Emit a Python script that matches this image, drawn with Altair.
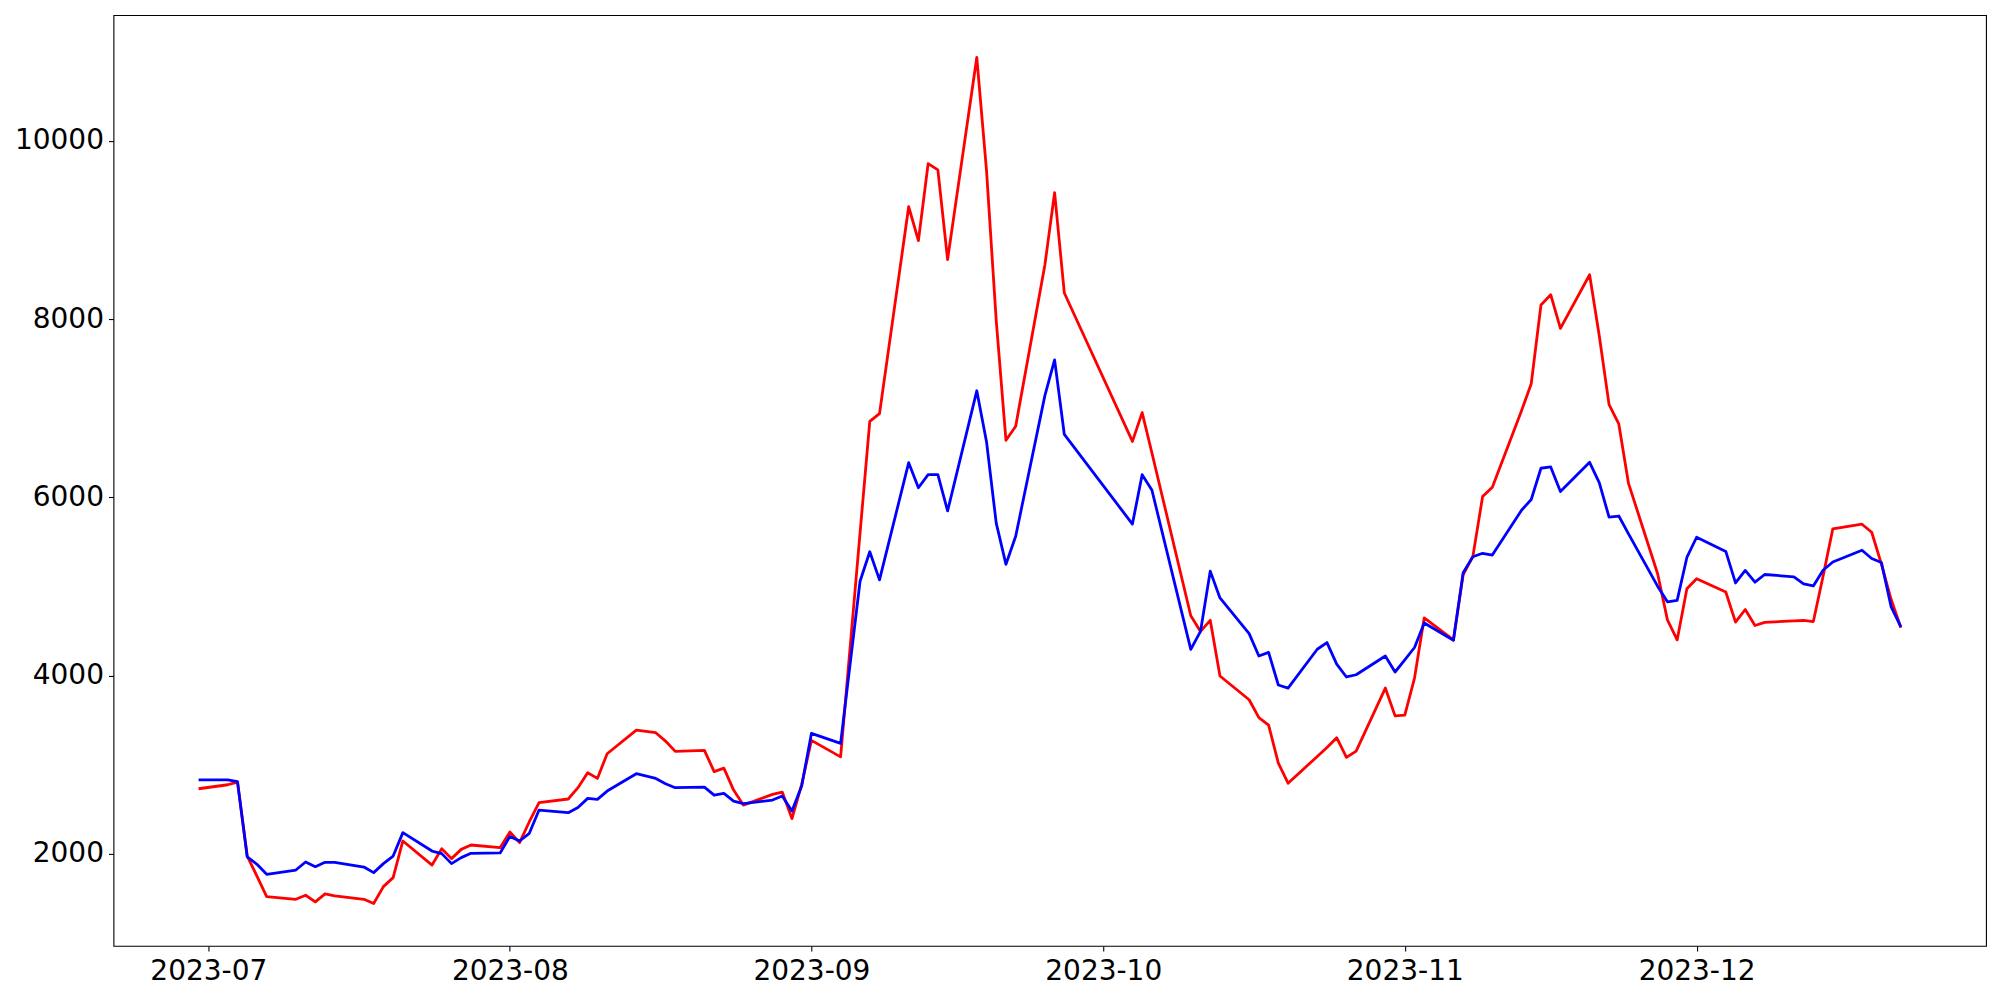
import altair as alt
import pandas as pd

dates = [
    "2023-06-30", "2023-07-03", "2023-07-04", "2023-07-05", "2023-07-06", "2023-07-07",
    "2023-07-10", "2023-07-11", "2023-07-12", "2023-07-13", "2023-07-14",
    "2023-07-17", "2023-07-18", "2023-07-19", "2023-07-20", "2023-07-21",
    "2023-07-24", "2023-07-25", "2023-07-26", "2023-07-27", "2023-07-28",
    "2023-07-31", "2023-08-01", "2023-08-02", "2023-08-03", "2023-08-04",
    "2023-08-07", "2023-08-08", "2023-08-09", "2023-08-10", "2023-08-11",
    "2023-08-14", "2023-08-16", "2023-08-17", "2023-08-18",
    "2023-08-21", "2023-08-22", "2023-08-23", "2023-08-24", "2023-08-25",
    "2023-08-28", "2023-08-29", "2023-08-30", "2023-08-31", "2023-09-01",
    "2023-09-04", "2023-09-06", "2023-09-07", "2023-09-08",
    "2023-09-11", "2023-09-12", "2023-09-13", "2023-09-14", "2023-09-15",
    "2023-09-18", "2023-09-19", "2023-09-20", "2023-09-21", "2023-09-22",
    "2023-09-25", "2023-09-26", "2023-09-27",
    "2023-10-04", "2023-10-05", "2023-10-06",
    "2023-10-10", "2023-10-11", "2023-10-12", "2023-10-13",
    "2023-10-16", "2023-10-17", "2023-10-18", "2023-10-19", "2023-10-20",
    "2023-10-23", "2023-10-24", "2023-10-25", "2023-10-26", "2023-10-27",
    "2023-10-30", "2023-10-31", "2023-11-01", "2023-11-02", "2023-11-03",
    "2023-11-06", "2023-11-07", "2023-11-08", "2023-11-09", "2023-11-10",
    "2023-11-13", "2023-11-14", "2023-11-15", "2023-11-16", "2023-11-17",
    "2023-11-20", "2023-11-21", "2023-11-22", "2023-11-23", "2023-11-24",
    "2023-11-27", "2023-11-28", "2023-11-29", "2023-11-30", "2023-12-01",
    "2023-12-04", "2023-12-05", "2023-12-06", "2023-12-07", "2023-12-08",
    "2023-12-11", "2023-12-12", "2023-12-13", "2023-12-14", "2023-12-15",
    "2023-12-18", "2023-12-19", "2023-12-20", "2023-12-21", "2023-12-22",
]

red = [
    2730, 2775, 2805, 1975, 1750, 1520,
    1490, 1535, 1460, 1550, 1527,
    1490, 1442, 1632, 1733, 2144,
    1874, 2058, 1946, 2050, 2099,
    2069, 2245, 2125, 2360, 2574,
    2615, 2742, 2910, 2846, 3123,
    3388, 3359, 3265, 3149,
    3160, 2922, 2962, 2715, 2547,
    2667, 2693, 2395, 2779, 3273,
    3088, 5600, 6851, 6939,
    9260, 8880, 9744, 9673, 8668,
    10935, 9668, 7983, 6640, 6798,
    8607, 9418, 8292,
    6627, 6950, 6500,
    4671, 4495, 4620, 3995,
    3729, 3528, 3443, 3017, 2792,
    3092, 3192, 3303, 3082, 3153,
    3860, 3548, 3555, 3972, 4647,
    4400, 5131, 5337, 6008, 6114,
    6972, 7275, 8158, 8273, 7895,
    8497, 7806, 7040, 6823, 6156,
    5140, 4625, 4400, 4975, 5087,
    4937, 4599, 4741, 4562, 4596,
    4614, 4618, 4606, 5115, 5646,
    5698, 5608, 5250, 4853, 4537,
]

blue = [
    2830, 2830, 2810, 1965, 1882, 1770,
    1818, 1908, 1856, 1905, 1905,
    1852, 1789, 1890, 1975, 2238,
    2031, 2002, 1890, 1957, 2006,
    2010, 2195, 2144, 2230, 2491,
    2462, 2520, 2622, 2611, 2704,
    2899, 2846, 2787, 2742,
    2749, 2659, 2678, 2592, 2563,
    2603, 2648, 2480, 2760, 3351,
    3239, 5058, 5389, 5074,
    6389, 6107, 6254, 6254, 5847,
    7195, 6624, 5710, 5248, 5563,
    7141, 7542, 6705,
    5700, 6254, 6082,
    4294, 4495, 5172, 4871,
    4470, 4220, 4260, 3894, 3859,
    4295, 4370, 4129, 3984, 4009,
    4220, 4040, 4175, 4315, 4590,
    4396, 5155, 5333, 5372, 5352,
    5855, 5975, 6326, 6341, 6064,
    6393, 6162, 5777, 5790, 5590,
    5000, 4827, 4844, 5325, 5552,
    5393, 5039, 5180, 5048, 5134,
    5108, 5028, 5006, 5182, 5274,
    5406, 5313, 5268, 4770, 4547,
]

y_ticks = [2000, 4000, 6000, 8000, 10000]
x_tick_months = [7, 8, 9, 10, 11, 12]
y_domain = [967, 11410]

df = pd.DataFrame({"date": dates, "red": red, "blue": blue})

x_enc = alt.X(
    "date:T",
    title=None,
    scale=alt.Scale(
        type="utc",
        domain=[
            alt.DateTime(year=2023, month=6, date=21, hours=6, utc=True),
            alt.DateTime(year=2023, month=12, date=30, hours=18, utc=True),
        ],
    ),
    axis=alt.Axis(
        values=[alt.DateTime(year=2023, month=m, date=1, utc=True) for m in x_tick_months],
        labelExpr="utcFormat(datum.value, '%Y-%m')",
        grid=False,
        domain=False,
        tickColor="black",
        tickSize=5,
        tickWidth=1.1,
        labelFont="DejaVu Sans",
        labelFontSize=28,
        labelColor="black",
        labelPadding=7,
        labelFlush=False,
        labelOverlap=False,
    ),
)

def y_enc(field):
    return alt.Y(
        f"{field}:Q",
        title=None,
        scale=alt.Scale(domain=y_domain, nice=False, zero=False),
        axis=alt.Axis(
            values=y_ticks,
            format="d",
            grid=False,
            domain=False,
            tickColor="black",
            tickSize=5,
            tickWidth=1.1,
            labelFont="DejaVu Sans",
            labelFontSize=28,
            labelColor="black",
            labelPadding=5,
            labelFlush=False,
            labelOverlap=False,
        ),
    )

base = alt.Chart(df)
red_line = base.mark_line(color="#ff0000", strokeWidth=2.8, strokeJoin="round").encode(
    x=x_enc, y=y_enc("red")
)
blue_line = base.mark_line(color="#0000ff", strokeWidth=2.8, strokeJoin="round").encode(
    x=x_enc, y=y_enc("blue")
)

chart = (
    alt.layer(red_line, blue_line)
    .properties(
        width=1873,
        height=931,
        autosize=alt.AutoSizeParams(type="none"),
        padding={"left": 105.5, "top": 7, "right": 6, "bottom": 46},
        background="white",
    )
    .configure_view(stroke="black", strokeWidth=1.1)
)

chart.save("out.html", embed_options={"renderer": "svg", "actions": False})
